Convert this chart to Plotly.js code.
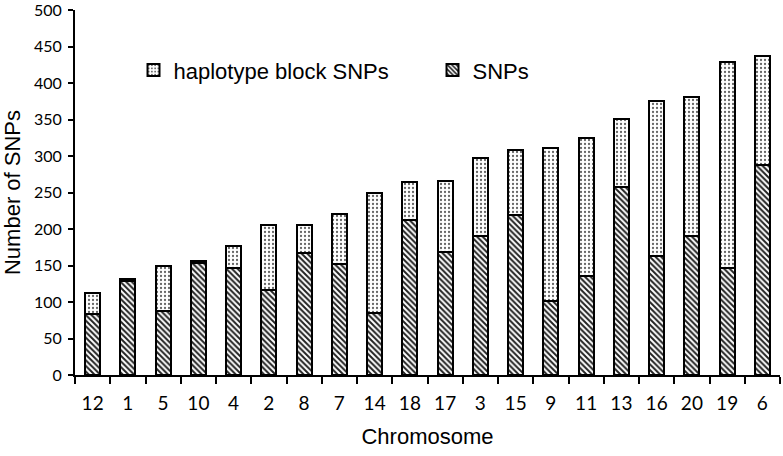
<!DOCTYPE html>
<html>
<head>
<meta charset="utf-8">
<script src="https://cdn.plot.ly/plotly-3.0.1.min.js"></script>
<style>html,body{margin:0;padding:0;background:#fff;}#chart{width:783px;height:456px;}</style>
</head>
<body>
<div id="chart"></div>
<script>
const chromosomes = ["12","1","5","10","4","2","8","7","14","18","17","3","15","9","11","13","16","20","19","6"];
const snps = [84,129,88,153,147,116,167,152,85,212,169,190,219,102,135,258,163,191,146,288];
const haplotypeBlockSnps = [28,3,61,3,30,90,39,69,164,53,97,107,89,209,189,93,213,190,283,149];
const yTicks = [0,50,100,150,200,250,300,350,400,450,500];

const traceSnps = {
  type: "bar", name: "SNPs", x: chromosomes, y: snps,
  marker: {color: "white", line: {color: "black", width: 2},
    pattern: {shape: "\\", fgcolor: "#222", bgcolor: "white", size: 4, solidity: 0.5}},
  legendrank: 2
};
const traceHap = {
  type: "bar", name: "haplotype block SNPs", x: chromosomes, y: haplotypeBlockSnps,
  marker: {color: "white", line: {color: "black", width: 2},
    pattern: {shape: ".", fgcolor: "#666", bgcolor: "white", size: 4, solidity: 0.25}},
  legendrank: 1
};

const layout = {
  width: 783, height: 456,
  margin: {l: 75, r: 3, t: 10, b: 81},
  paper_bgcolor: "white", plot_bgcolor: "white",
  barmode: "stack", bargap: 0.57,
  showlegend: true,
  legend: {orientation: "h", x: 0.083, y: 0.835, xanchor: "left", yanchor: "middle",
    font: {family: "Liberation Sans, Arial, sans-serif", size: 22, color: "black"},
    entrywidth: 254, traceorder: "normal", bgcolor: "rgba(0,0,0,0)"},
  xaxis: {
    type: "category", showline: true, linecolor: "black", linewidth: 2,
    ticks: "outside", tickson: "boundaries", ticklen: 7, tickwidth: 2, tickcolor: "black",
    tickfont: {family: "Lato, sans-serif", size: 19, color: "black"},
    ticklabelstandoff: 10,
    showgrid: false, zeroline: false,
    title: {text: "Chromosome", font: {family: "Liberation Sans, Arial, sans-serif", size: 22, color: "black"}, standoff: 16},
    automargin: false
  },
  yaxis: {
    range: [0, 500], tickmode: "array", tickvals: yTicks, ticktext: yTicks.map(String),
    ticklabeloverflow: "allow",
    showline: true, linecolor: "black", linewidth: 2,
    ticks: "outside", ticklen: 5, tickwidth: 2, tickcolor: "black",
    tickfont: {family: "Lato, sans-serif", size: 16, color: "black"},
    ticklabelstandoff: 3,
    showgrid: false, zeroline: false,
    title: {text: "Number of SNPs", font: {family: "Liberation Sans, Arial, sans-serif", size: 22, color: "black"}, standoff: 8},
    automargin: false
  }
};
Plotly.newPlot("chart", [traceSnps, traceHap], layout, {displayModeBar: false, staticPlot: true});
</script>
</body>
</html>
